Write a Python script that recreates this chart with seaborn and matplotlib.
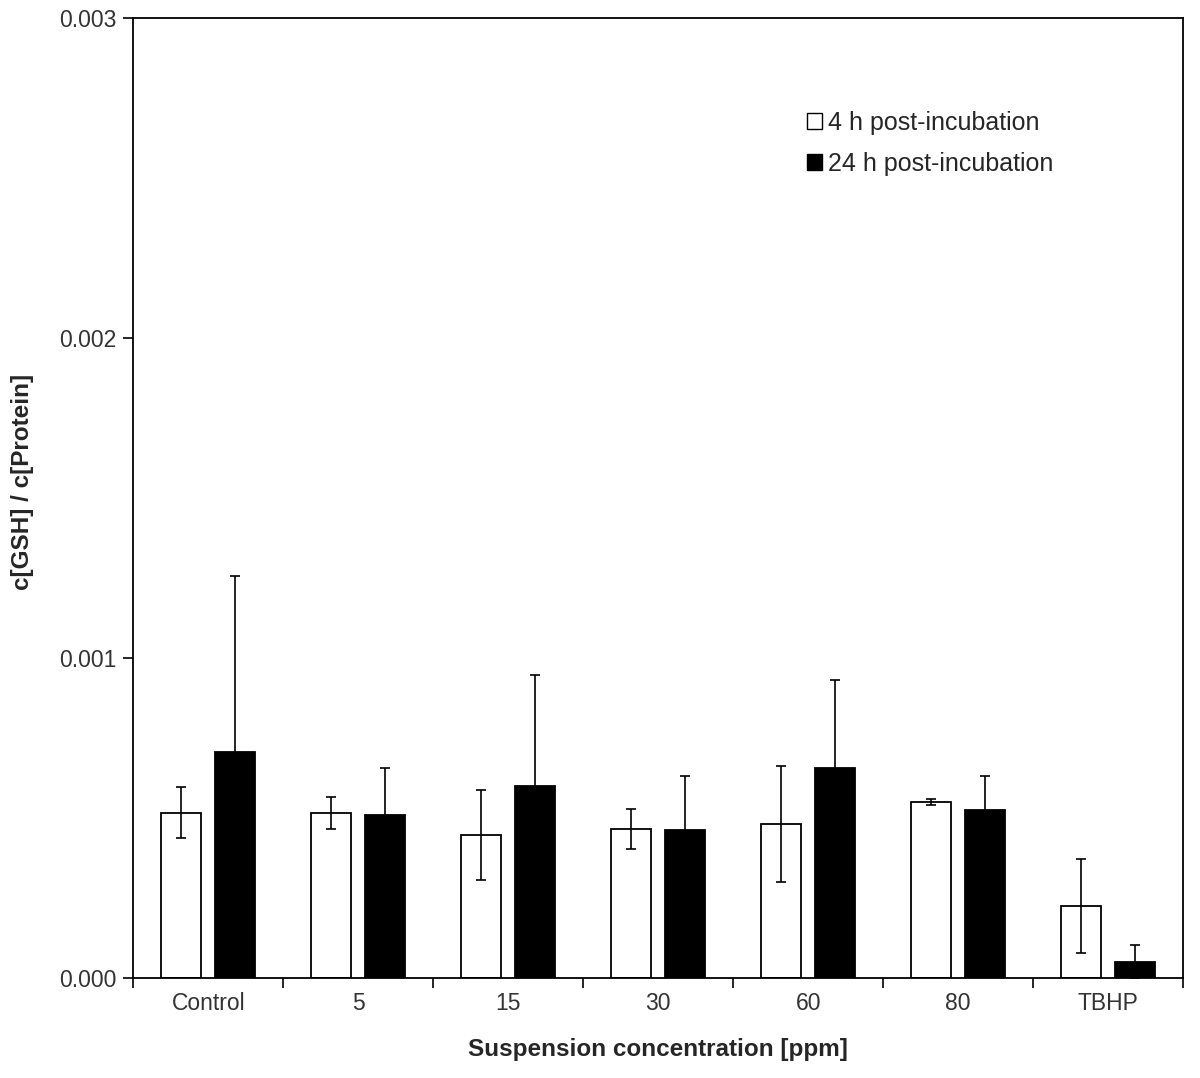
import numpy as np
import pandas as pd
import matplotlib
matplotlib.use('Agg')
import matplotlib.pyplot as plt
from matplotlib.patches import Patch
import seaborn as sns

# --- datos ---
concentraciones = ['Control', '5', '15', '30', '60', '80', 'TBHP']
series = ['4 h post-incubation', '24 h post-incubation']
gsh_4h = [0.000516, 0.000516, 0.000447, 0.000466, 0.000481, 0.000550, 0.000225]
err_4h = [0.000080, 0.000050, 0.000140, 0.000063, 0.000182, 0.000010, 0.000147]
gsh_24h = [0.000706, 0.000509, 0.000600, 0.000463, 0.000656, 0.000525, 0.000050]
err_24h = [0.000550, 0.000147, 0.000347, 0.000169, 0.000275, 0.000106, 0.000053]
colores = ['white', 'black']

df = pd.DataFrame({
    'conc': concentraciones * 2,
    'valor': gsh_4h + gsh_24h,
    'serie': [series[0]] * len(concentraciones) + [series[1]] * len(concentraciones),
})

sns.set_style('ticks')
plt.rcParams['font.family'] = ['Liberation Sans', 'DejaVu Sans']

fig = plt.figure(figsize=(12, 10.78), dpi=100)
ax = fig.add_axes([0.111, 0.0928, 0.875, 0.8905])

sns.barplot(data=df, x='conc', y='valor', hue='serie', order=concentraciones,
            hue_order=series, palette=colores, edgecolor='black', linewidth=1.3,
            width=0.72, gap=0.26, errorbar=None, legend=False, ax=ax)

# barras de error
for cont, err in zip(ax.containers, [err_4h, err_24h]):
    xs = [p.get_x() + p.get_width() / 2 for p in cont.patches]
    ys = [p.get_height() for p in cont.patches]
    ax.errorbar(xs, ys, yerr=err, fmt='none', ecolor='black', elinewidth=1.2,
                capsize=3.8, capthick=1.2, zorder=3)

ax.set_ylim(0, 0.003)
ax.set_xlim(-0.5, 6.5)
ax.set_yticks([0, 0.001, 0.002, 0.003])
ax.set_yticklabels(['0.000', '0.001', '0.002', '0.003'])
ax.set_xticks(np.arange(-0.5, 7, 1), minor=True)
ax.tick_params(axis='x', which='major', length=0, labelsize=16.5, pad=10)
ax.tick_params(axis='x', which='minor', length=7, width=1.2, direction='out')
ax.tick_params(axis='y', length=7, width=1.2, direction='out', labelsize=16.5, pad=5)
ax.tick_params(colors='black', which='both', labelcolor='#333333')

for s in ax.spines.values():
    s.set_visible(True)
    s.set_linewidth(1.3)
    s.set_color('black')

ax.set_xlabel('Suspension concentration [ppm]', fontsize=17.5, fontweight='bold', labelpad=17)
ax.set_ylabel('c[GSH] / c[Protein]', fontsize=17.5, fontweight='bold')
ax.yaxis.set_label_coords(-0.094, 0.517)

handles = [Patch(facecolor=c, edgecolor='black', linewidth=1.0) for c in colores]
ax.legend(handles, series, frameon=False, loc='upper left',
          bbox_to_anchor=(0.62, 0.927), fontsize=18, handlelength=0.6,
          handleheight=0.6, handletextpad=0.25, labelspacing=0.7)

fig.savefig('out.png', dpi=100)
